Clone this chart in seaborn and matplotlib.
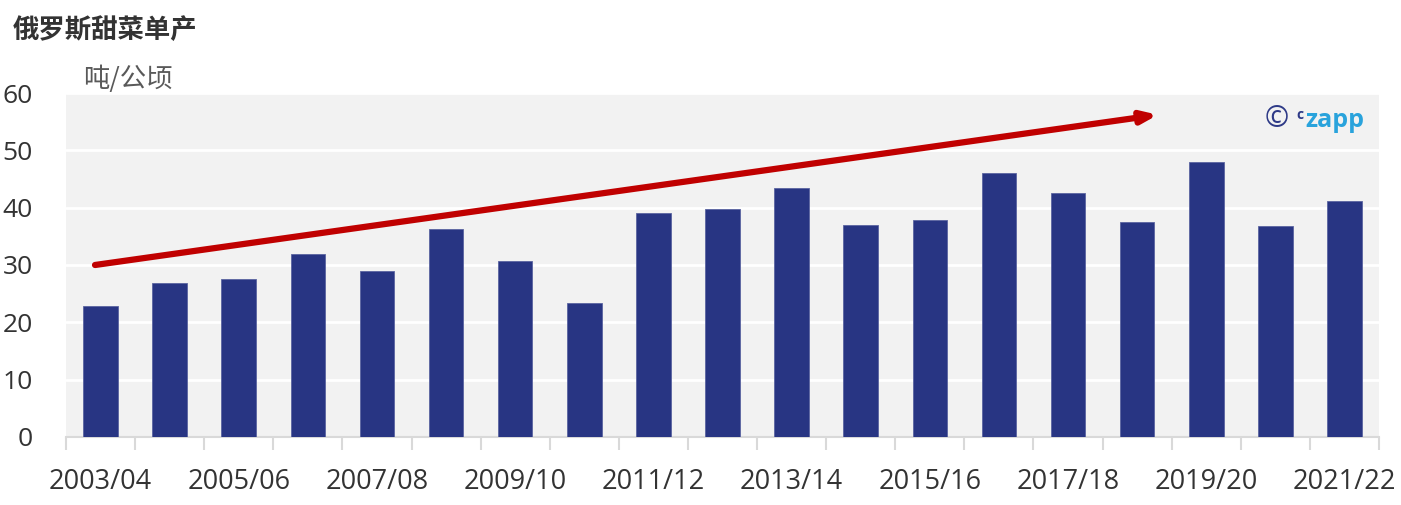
import matplotlib
matplotlib.use("Agg")
import matplotlib.pyplot as plt
import seaborn as sns
import pandas as pd

# 数据
seasons = ["2003/04", "2004/05", "2005/06", "2006/07", "2007/08", "2008/09", "2009/10",
           "2010/11", "2011/12", "2012/13", "2013/14", "2014/15", "2015/16", "2016/17",
           "2017/18", "2018/19", "2019/20", "2020/21", "2021/22"]
yields = [22.9, 26.9, 27.6, 31.9, 29.0, 36.3, 30.7, 23.4, 39.1, 39.8, 43.5, 37.0,
          37.9, 46.1, 42.6, 37.5, 48.0, 36.8, 41.2]
shown_labels = ["2003/04", "2005/06", "2007/08", "2009/10", "2011/12", "2013/14",
                "2015/16", "2017/18", "2019/20", "2021/22"]
# 趋势箭头 (起点, 终点)
trend_start = (-0.08, 30.0)
trend_end = (15.3, 56.2)

df = pd.DataFrame({"season": seasons, "yield": yields})

sns.set_style("white")
plt.rcParams['font.family'] = ['Open Sans', 'Noto Sans CJK SC', 'DejaVu Sans']

fig = plt.figure(figsize=(14.01, 5.05), dpi=100)
ax = fig.add_axes([0.0471, 0.1347, 0.9372, 0.6811])
ax.set_facecolor("#f2f2f2")

sns.barplot(data=df, x="season", y="yield", color="#283583", width=0.5,
            saturation=1, ax=ax, zorder=3, edgecolor="#5a64a0", linewidth=0.6)

ax.set_ylim(0, 60)
ax.set_xlim(-0.5, len(seasons) - 0.5)
ax.set_yticks(range(0, 61, 10))
ax.yaxis.grid(True, color="white", linewidth=2, zorder=1)
ax.set_axisbelow(True)

# x 轴: 刻度线在类别之间, 标签隔一个显示
ax.set_xticks([i for i in range(len(seasons)) if seasons[i] in shown_labels])
ax.set_xticklabels(shown_labels)
ax.set_xticks([i - 0.5 for i in range(len(seasons) + 1)], minor=True)
ax.tick_params(axis="x", which="major", bottom=True, length=0, pad=22,
               labelsize=19.5, labelcolor="#333333")
ax.tick_params(axis="x", which="minor", bottom=True, length=9, width=1.5, color="#d9d9d9")
ax.tick_params(axis="y", length=0, pad=24, labelsize=19, labelcolor="#333333")

for s in ["top", "right", "left"]:
    ax.spines[s].set_visible(False)
ax.spines["bottom"].set_color("#d9d9d9")
ax.spines["bottom"].set_linewidth(1.5)
ax.set_xlabel("")
ax.set_ylabel("")

# 趋势箭头
ax.annotate("", xy=trend_end, xytext=trend_start,
            arrowprops=dict(arrowstyle="-|>,head_length=0.9,head_width=0.35",
                            color="#c00000", lw=4.5, shrinkA=0, shrinkB=0),
            zorder=5)

fig.text(0.009, 0.94, "俄罗斯甜菜单产", fontsize=19, fontweight="bold",
         color="#333333", family=['Noto Sans CJK SC', 'DejaVu Sans'], va="center")
fig.text(0.059, 0.843, "吨/公顷", fontsize=19, color="#595959",
         family=['Noto Sans CJK SC', 'DejaVu Sans'], va="center")

# 水印
fig.text(0.903, 0.763, "©", fontsize=21, color="#2e3a87", va="center")
fig.text(0.925, 0.772, "c", fontsize=10, color="#2e3a87", va="center", fontweight="bold")
fig.text(0.932, 0.761, "zapp", fontsize=18, color="#29a3dc", va="center", fontweight="bold")

fig.savefig("out.png", dpi=100)
